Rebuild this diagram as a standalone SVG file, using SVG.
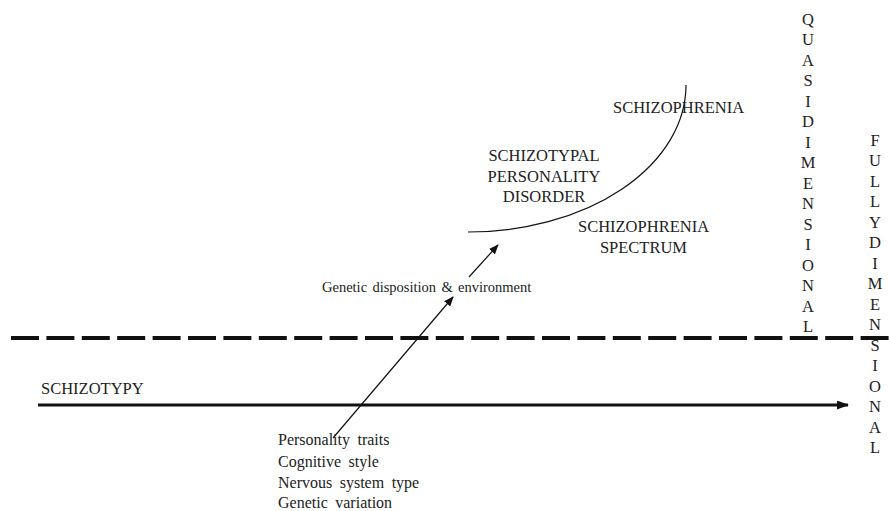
<svg xmlns="http://www.w3.org/2000/svg" width="889" height="511" viewBox="0 0 889 511">
<defs>
<style>
text{font-family:"Liberation Serif","Times New Roman",serif;fill:#222}
.lab{font-size:16.5px}
.small{font-size:16px}
.vert{font-size:16.5px;text-anchor:middle}
.thin{stroke:#111;stroke-width:1.2;fill:none}
</style>
<marker id="ah" viewBox="0 0 10 8" refX="9" refY="4" markerWidth="10" markerHeight="8" markerUnits="userSpaceOnUse" orient="auto"><path d="M0,0 L10,4 L0,8 Z" fill="#111"/></marker>
<marker id="ahb" viewBox="0 0 12 9" refX="11" refY="4.5" markerWidth="12" markerHeight="9" markerUnits="userSpaceOnUse" orient="auto"><path d="M0,0 L12,4.5 L0,9 Z" fill="#111"/></marker>
</defs>
<rect width="889" height="511" fill="#fff"/>
<g id="connectors">
<line id="threshold" x1="11" y1="338" x2="889" y2="338" stroke="#111" stroke-width="4" stroke-dasharray="28 7.4"/>
<line id="schizotypy-axis" x1="38" y1="405" x2="848" y2="405" stroke="#111" stroke-width="3" marker-end="url(#ahb)"/>
<line class="thin" x1="333" y1="438" x2="453" y2="297" marker-end="url(#ah)"/>
<line class="thin" x1="469" y1="277" x2="498" y2="245" marker-end="url(#ah)"/>
<path class="thin" d="M468,232 A218,147 0 0 0 686,85"/>
</g>
<g id="schizophrenia"><text class="lab" x="613" y="113">SCHIZOPHRENIA</text></g>
<g id="spd"><text class="lab" text-anchor="middle"><tspan x="544" y="161">SCHIZOTYPAL</tspan><tspan x="544" y="182">PERSONALITY</tspan><tspan x="544" y="202">DISORDER</tspan></text></g>
<g id="spectrum"><text class="lab" text-anchor="middle"><tspan x="643.5" y="232">SCHIZOPHRENIA</tspan><tspan x="643.5" y="253">SPECTRUM</tspan></text></g>
<g id="genetic-env"><text x="322" y="292" style="font-size:14.5px" word-spacing="1.7">Genetic disposition &amp; environment</text></g>
<g id="schizotypy"><text class="lab" x="41" y="394">SCHIZOTYPY</text></g>
<g id="traits"><text class="small" word-spacing="3.5"><tspan x="278" y="445">Personality traits</tspan><tspan x="278" y="467">Cognitive style</tspan><tspan x="278" y="488">Nervous system type</tspan><tspan x="278" y="508">Genetic variation</tspan></text></g>
<g id="quasi"><text class="vert"><tspan x="808" y="24.5">Q</tspan><tspan x="808" dy="20.5">U</tspan><tspan x="808" dy="20.5">A</tspan><tspan x="808" dy="20.5">S</tspan><tspan x="808" dy="20.5">I</tspan><tspan x="808" dy="20.5">D</tspan><tspan x="808" dy="20.5">I</tspan><tspan x="808" dy="20.5">M</tspan><tspan x="808" dy="20.5">E</tspan><tspan x="808" dy="20.5">N</tspan><tspan x="808" dy="20.5">S</tspan><tspan x="808" dy="20.5">I</tspan><tspan x="808" dy="20.5">O</tspan><tspan x="808" dy="20.5">N</tspan><tspan x="808" dy="20.5">A</tspan><tspan x="808" dy="20.5">L</tspan></text></g>
<g id="fully"><text class="vert"><tspan x="875" y="145.5">F</tspan><tspan x="875" dy="20.5">U</tspan><tspan x="875" dy="20.5">L</tspan><tspan x="875" dy="20.5">L</tspan><tspan x="875" dy="20.5">Y</tspan><tspan x="875" dy="20.5">D</tspan><tspan x="875" dy="20.5">I</tspan><tspan x="875" dy="20.5">M</tspan><tspan x="875" dy="20.5">E</tspan><tspan x="875" dy="20.5">N</tspan><tspan x="875" dy="20.5">S</tspan><tspan x="875" dy="20.5">I</tspan><tspan x="875" dy="20.5">O</tspan><tspan x="875" dy="20.5">N</tspan><tspan x="875" dy="20.5">A</tspan><tspan x="875" dy="20.5">L</tspan></text></g>
</svg>
